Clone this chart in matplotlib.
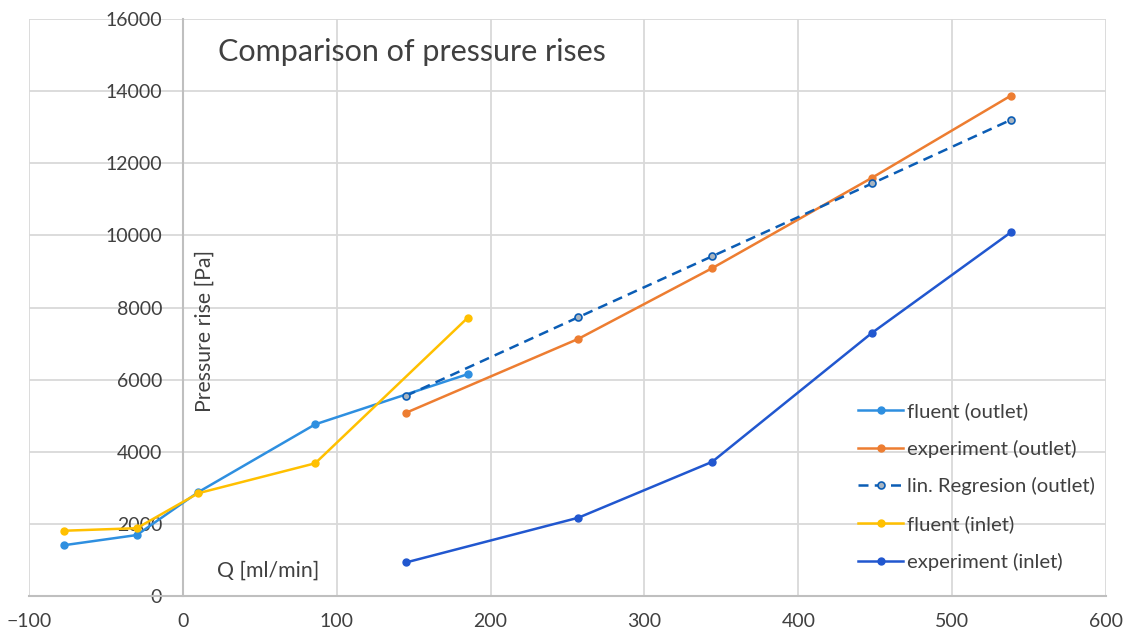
import matplotlib.pyplot as plt

plt.rcParams["font.family"] = ["Lato", "DejaVu Sans"]

# flow rate Q [ml/min] and pressure rise [Pa]
fluent_q = [-77, -30, 10, 86, 185]
fluent_outlet = [1410, 1690, 2880, 4760, 6150]
fluent_inlet = [1810, 1880, 2850, 3680, 7710]

exp_q = [145, 257, 344, 448, 538]
exp_outlet = [5080, 7130, 9090, 11600, 13870]
regression_outlet = [5550, 7730, 9420, 11440, 13200]
exp_inlet = [930, 2170, 3720, 7300, 10080]

x_ticks = [-100, 0, 100, 200, 300, 400, 500, 600]
y_ticks = [0, 2000, 4000, 6000, 8000, 10000, 12000, 14000, 16000]

fig = plt.figure(figsize=(11.25, 6.36), dpi=100)
ax = fig.add_axes([0.0258, 0.0629, 0.9573, 0.9072])

lw = 1.8
ms = 5
ax.plot(fluent_q, fluent_outlet, color="#2E8FE0", lw=lw, marker="o", ms=ms,
        label="fluent (outlet)", zorder=3)
ax.plot(exp_q, exp_outlet, color="#ED7D31", lw=lw, marker="o", ms=ms,
        label="experiment (outlet)", zorder=3)
ax.plot(exp_q, regression_outlet, color="#0B5DB5", lw=lw, dashes=(4, 2.5),
        marker="o", ms=ms, mfc="#A8B4C0", mec="#0B5DB5", mew=1.2,
        label="lin. Regresion (outlet)", zorder=4)
ax.plot(fluent_q, fluent_inlet, color="#FFC000", lw=lw, marker="o", ms=ms,
        label="fluent (inlet)", zorder=3)
ax.plot(exp_q, exp_inlet, color="#2157CF", lw=lw, marker="o", ms=ms,
        label="experiment (inlet)", zorder=3)

ax.set_xlim(-100, 600)
ax.set_ylim(0, 16000)
ax.set_xticks(x_ticks)
ax.set_yticks(y_ticks)
ax.grid(color="#D9D9D9", lw=1.3)
ax.set_axisbelow(True)

for side in ["top", "right"]:
    ax.spines[side].set_visible(False)
ax.spines["left"].set_position(("data", 0))
ax.spines["left"].set_color("#BFBFBF")
ax.spines["left"].set_linewidth(1.5)
ax.spines["bottom"].set_color("#BFBFBF")
ax.spines["bottom"].set_linewidth(1.5)

ax.tick_params(axis="both", length=0, labelsize=14, labelcolor="#404040")
ax.tick_params(axis="y", pad=15)
ax.tick_params(axis="x", pad=12)

ax.text(0.1755, 0.943, "Comparison of pressure rises", transform=ax.transAxes,
        fontsize=22, color="#404040", va="center", ha="left")
ax.text(0.1634, 0.459, "Pressure rise [Pa]", transform=ax.transAxes,
        rotation=90, fontsize=15.3, color="#404040", va="center", ha="center")
ax.text(0.1745, 0.0433, "Q [ml/min]", transform=ax.transAxes,
        fontsize=15.3, color="#404040", va="center", ha="left")

leg = ax.legend(loc="center left", bbox_to_anchor=(0.770, 0.19), frameon=False,
                fontsize=14.6, handlelength=2.2, handletextpad=0.2,
                labelspacing=0.97, borderpad=0, borderaxespad=0)
for t in leg.get_texts():
    t.set_color("#404040")

fig.savefig("out.png", dpi=100)
